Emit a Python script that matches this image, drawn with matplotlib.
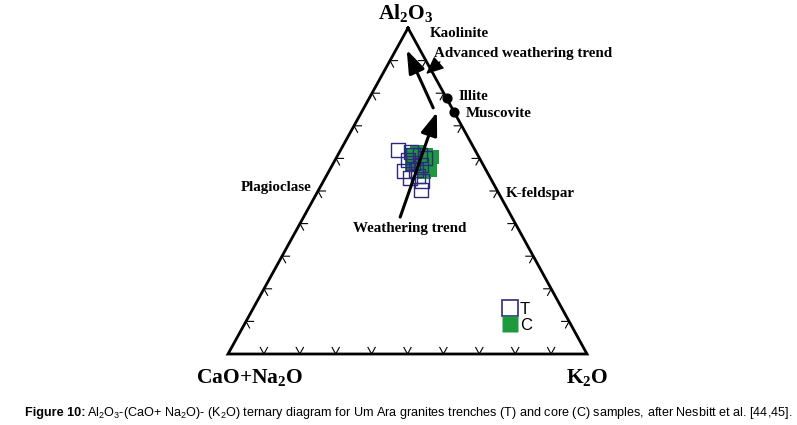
import numpy as np
import matplotlib.pyplot as plt
from matplotlib.lines import Line2D

plt.rcParams['mathtext.default'] = 'regular'

# compositions in %: Al2O3, CaO+Na2O, K2O
t_al = [62.6, 56.1, 54.0, 53.1, 50.3, 61.0, 61.0, 58.6, 58.0, 59.5, 56.4, 60.1, 62.0, 54.6]
t_cn = [21.4, 23.0, 22.4, 19.5, 21.2, 18.1, 16.1, 19.3, 17.3, 20.2, 19.5, 15.2, 18.1, 19.9]
t_k = [16.0, 20.9, 23.6, 27.4, 28.5, 20.9, 22.9, 22.1, 24.7, 20.3, 24.1, 24.7, 19.9, 25.5]

c_al = [62.0, 61.0, 58.9, 56.4, 55.8, 59.5, 58.0, 58.0, 60.4, 60.7]
c_cn = [16.4, 14.5, 14.4, 15.6, 17.6, 17.4, 19.8, 16.8, 13.1, 17.9]
c_k = [21.6, 24.5, 26.7, 28.0, 26.6, 23.1, 22.2, 25.2, 26.5, 21.4]

# reference minerals
mineral_names = ['Illite', 'Muscovite']
mineral_al = [78.4, 74.1]
mineral_k = [21.6, 25.9]

# vertices of the triangle (figure pixel frame)
A = np.array([408.0, 28.0])   # Al2O3
B = np.array([228.0, 354.0])  # CaO+Na2O
C = np.array([587.0, 354.0])  # K2O


def to_xy(al, cn, k):
    al, cn, k = np.asarray(al, float), np.asarray(cn, float), np.asarray(k, float)
    s = al + cn + k
    a, b, c = al / s, cn / s, k / s
    return a * A[0] + b * B[0] + c * C[0], a * A[1] + b * B[1] + c * C[1]


fig = plt.figure(figsize=(7.97, 4.25), dpi=100)
ax = fig.add_axes([0, 0, 1, 1])
ax.set_xlim(0, 797)
ax.set_ylim(425, 0)
ax.axis('off')

serif = ['Liberation Serif', 'DejaVu Serif']
sans = ['Liberation Sans', 'DejaVu Sans']

# triangle
tri = np.array([A, B, C, A])
ax.plot(tri[:, 0], tri[:, 1], color='k', lw=2.0, solid_joinstyle='miter', zorder=3)

# chevron ticks every 10 %
L = 7.5
for P, Q, R in [(B, C, A), (B, A, C), (A, C, B)]:
    d1 = (R - P) / np.linalg.norm(R - P)
    d2 = (R - Q) / np.linalg.norm(R - Q)
    for f in np.arange(1, 10) / 10:
        p = P + f * (Q - P)
        ax.plot([p[0] + L * d1[0], p[0], p[0] + L * d2[0]],
                [p[1] + L * d1[1], p[1], p[1] + L * d2[1]], color='k', lw=0.8, zorder=3)

# samples
cx, cy = to_xy(c_al, c_cn, c_k)
ax.scatter(cx, cy, marker='s', s=95, color='#1e9a3e', edgecolors='none', zorder=4)
tx, ty = to_xy(t_al, t_cn, t_k)
ax.scatter(tx, ty, marker='s', s=110, facecolors='none', edgecolors='#2d2a7c', linewidths=1.0, zorder=5)

# minerals on the A-K edge
mx, my = to_xy(mineral_al, [0, 0], mineral_k)
ax.scatter(mx, my, s=40, color='k', zorder=6)

# trend arrows
arr = dict(arrowstyle='-|>,head_length=0.7,head_width=0.25', color='k', lw=2.2,
           mutation_scale=20, shrinkA=0, shrinkB=0)
w0 = to_xy(42.0, 31.1, 26.9)
w1 = to_xy(74.2, 4.8, 21.0)
ax.annotate('', xy=w1, xytext=w0, arrowprops=arr, zorder=7)
a0 = to_xy(75.5, 5.2, 19.3)
a1 = to_xy(93.3, 3.7, 3.0)
ax.annotate('', xy=a1, xytext=a0, arrowprops=arr, zorder=7)
ax.annotate('', xy=to_xy(85.9, 2.0, 12.1), xytext=to_xy(89.6, -3.7, 14.1),
            arrowprops=dict(arrowstyle='-|>,head_length=0.9,head_width=0.4', color='k',
                            lw=1.0, mutation_scale=12, shrinkA=0, shrinkB=0), zorder=7)

# labels
big = dict(family=serif, fontweight='bold', fontsize=15.5)
ax.text(A[0] - 2, 13, r'Al$_2$O$_3$', ha='center', va='center', **big)
ax.text(B[0] + 22, 378, r'CaO+Na$_2$O', ha='center', va='center', **big)
ax.text(C[0], 378, r'K$_2$O', ha='center', va='center', **big)

lab = dict(family=serif, fontweight='bold', fontsize=10.8, va='center')
ax.text(430, 33, 'Kaolinite', **lab)
ax.text(434, 53, 'Advanced weathering trend', **lab)
ax.text(459, 96, mineral_names[0], **lab)
ax.text(466, 113, mineral_names[1], **lab)
ax.text(312, 187, 'Plagioclase', ha='right', **lab)
ax.text(506, 193, 'K-feldspar', **lab)
ax.text(410, 228, 'Weathering trend', ha='center', **lab)

# legend
ht = Line2D([], [], ls='none', marker='s', ms=11, mfc='none', mec='#2d2a7c', mew=1.2)
hc = Line2D([], [], ls='none', marker='s', ms=11, mfc='#1e9a3e', mec='none')
ax.legend([ht, hc], ['T', 'C'], loc='upper left', bbox_to_anchor=(505 / 797, 1 - 302 / 425),
          frameon=False, prop={'family': sans, 'size': 12}, handlelength=0.6,
          handletextpad=0.3, labelspacing=0.05, borderpad=0, borderaxespad=0)

# caption
cap = ax.text(25, 416, 'Figure 10:', family=sans, fontweight='bold', fontsize=9.1, va='baseline')
fig.canvas.draw()
x1 = cap.get_window_extent().x1
ax.text(x1 + 2, 416, r'Al$_2$O$_3$-(CaO+ Na$_2$O)- (K$_2$O) ternary diagram for Um Ara granites '
        r'trenches (T) and core (C) samples, after Nesbitt et al. [44,45].',
        va='baseline', family=sans, fontsize=9.1)

fig.savefig('out.png', dpi=100)
